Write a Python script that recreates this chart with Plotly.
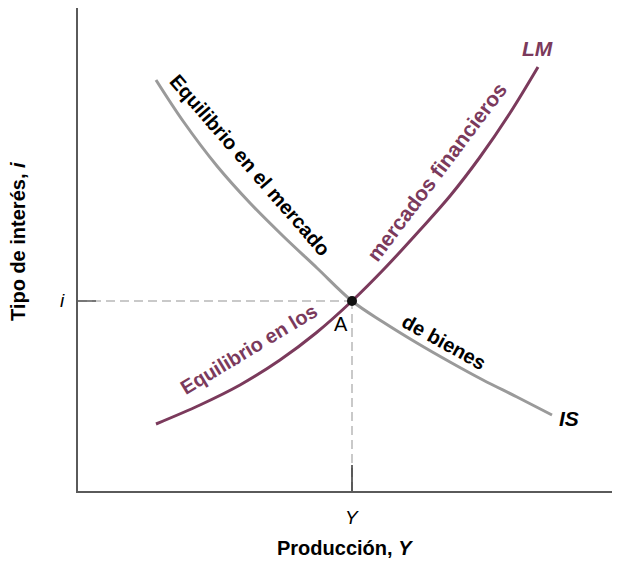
import plotly.graph_objects as go

# Data (arbitrary units: output Y on x, interest rate i on y)
is_x = [78, 105, 139, 172, 205, 239, 274, 305, 339, 372, 405, 439, 474]
is_y = [411, 370, 325, 288, 255, 223, 190, 169, 148, 129, 111, 94, 76]

lm_x = [78, 122, 162, 202, 238, 274, 307, 342, 372, 402, 432, 460]
lm_y = [67, 86, 106, 131, 158, 190, 223, 261, 295, 334, 378, 424]

eq_y_val = 274
eq_i_val = 190

x_range = [0, 542]
y_range = [0, 483]

PURPLE = "#7b3a5c"
IS_GRAY = "#9a9a9a"
AXIS = "#5a5a5a"
DASH = "#b8b8b8"
FONT = "Liberation Sans, Arial, sans-serif"

fig = go.Figure()

# dashed guide lines
fig.add_trace(go.Scatter(x=[0, eq_y_val], y=[eq_i_val, eq_i_val], mode="lines",
                         line=dict(color=DASH, width=1.5, dash="9px,5px"), hoverinfo="skip"))
fig.add_trace(go.Scatter(x=[eq_y_val, eq_y_val], y=[0, eq_i_val], mode="lines",
                         line=dict(color=DASH, width=1.5, dash="9px,5px"), hoverinfo="skip"))
# short solid ticks
fig.add_trace(go.Scatter(x=[0, 18], y=[eq_i_val, eq_i_val], mode="lines",
                         line=dict(color=AXIS, width=1.5), hoverinfo="skip"))
fig.add_trace(go.Scatter(x=[eq_y_val, eq_y_val], y=[0, 26], mode="lines",
                         line=dict(color="#333333", width=1.5), hoverinfo="skip"))

# curves
fig.add_trace(go.Scatter(x=is_x, y=is_y, mode="lines",
                         line=dict(color=IS_GRAY, width=3, shape="spline", smoothing=1.0),
                         hoverinfo="skip"))
fig.add_trace(go.Scatter(x=lm_x, y=lm_y, mode="lines",
                         line=dict(color=PURPLE, width=3, shape="spline", smoothing=1.0),
                         hoverinfo="skip"))
# equilibrium point
fig.add_trace(go.Scatter(x=[eq_y_val], y=[eq_i_val], mode="markers",
                         marker=dict(color="#111111", size=10), hoverinfo="skip"))


def ann(text, x, y, size=19, color="black", angle=0, bold=True, italic=False, paper=False):
    t = text
    if bold:
        t = "<b>" + t + "</b>"
    if italic:
        t = "<i>" + t + "</i>"
    if paper:
        xr, yr = "paper", "paper"
        x = x / (x_range[1] - x_range[0])
        y = y / (y_range[1] - y_range[0])
    else:
        xr, yr = "x", "y"
    fig.add_annotation(x=x, y=y, xref=xr, yref=yr, text=t, showarrow=False,
                       xanchor="center", yanchor="middle",
                       textangle=angle, font=dict(size=size, color=color, family=FONT))


ann("Equilibrio en el mercado", 172, 326, size=20, angle=49)
ann("de bienes", 366, 149, size=20, angle=29)
ann("mercados financieros", 358, 319, size=21, color=PURPLE, angle=-53)
ann("Equilibrio en los", 171, 142, size=20, color=PURPLE, angle=-31)
ann("LM", 459, 443, size=21, color=PURPLE, italic=True)
ann("IS", 491, 73, size=21, italic=True)
ann("A", 263, 167, size=20, bold=False)
ann("i", -16, 191, size=19, bold=False, italic=True, paper=True)
ann("Y", eq_y_val, -26, size=19, bold=False, italic=True, paper=True)
ann("Producción, <i>Y</i>", 267, -57, size=20, paper=True)
ann("Tipo de interés, <i>i</i>", -60, 249, size=20, angle=-90, paper=True)

fig.update_xaxes(range=x_range, showgrid=False, zeroline=False, showticklabels=False,
                 showline=True, linecolor=AXIS, linewidth=2, ticks="")
fig.update_yaxes(range=y_range, showgrid=False, zeroline=False, showticklabels=False,
                 showline=True, linecolor=AXIS, linewidth=2, ticks="")

fig.update_layout(width=612, height=555, margin=dict(l=70, r=0, t=0, b=72),
                  paper_bgcolor="white", plot_bgcolor="white", showlegend=False)

fig.write_html("out.html")
